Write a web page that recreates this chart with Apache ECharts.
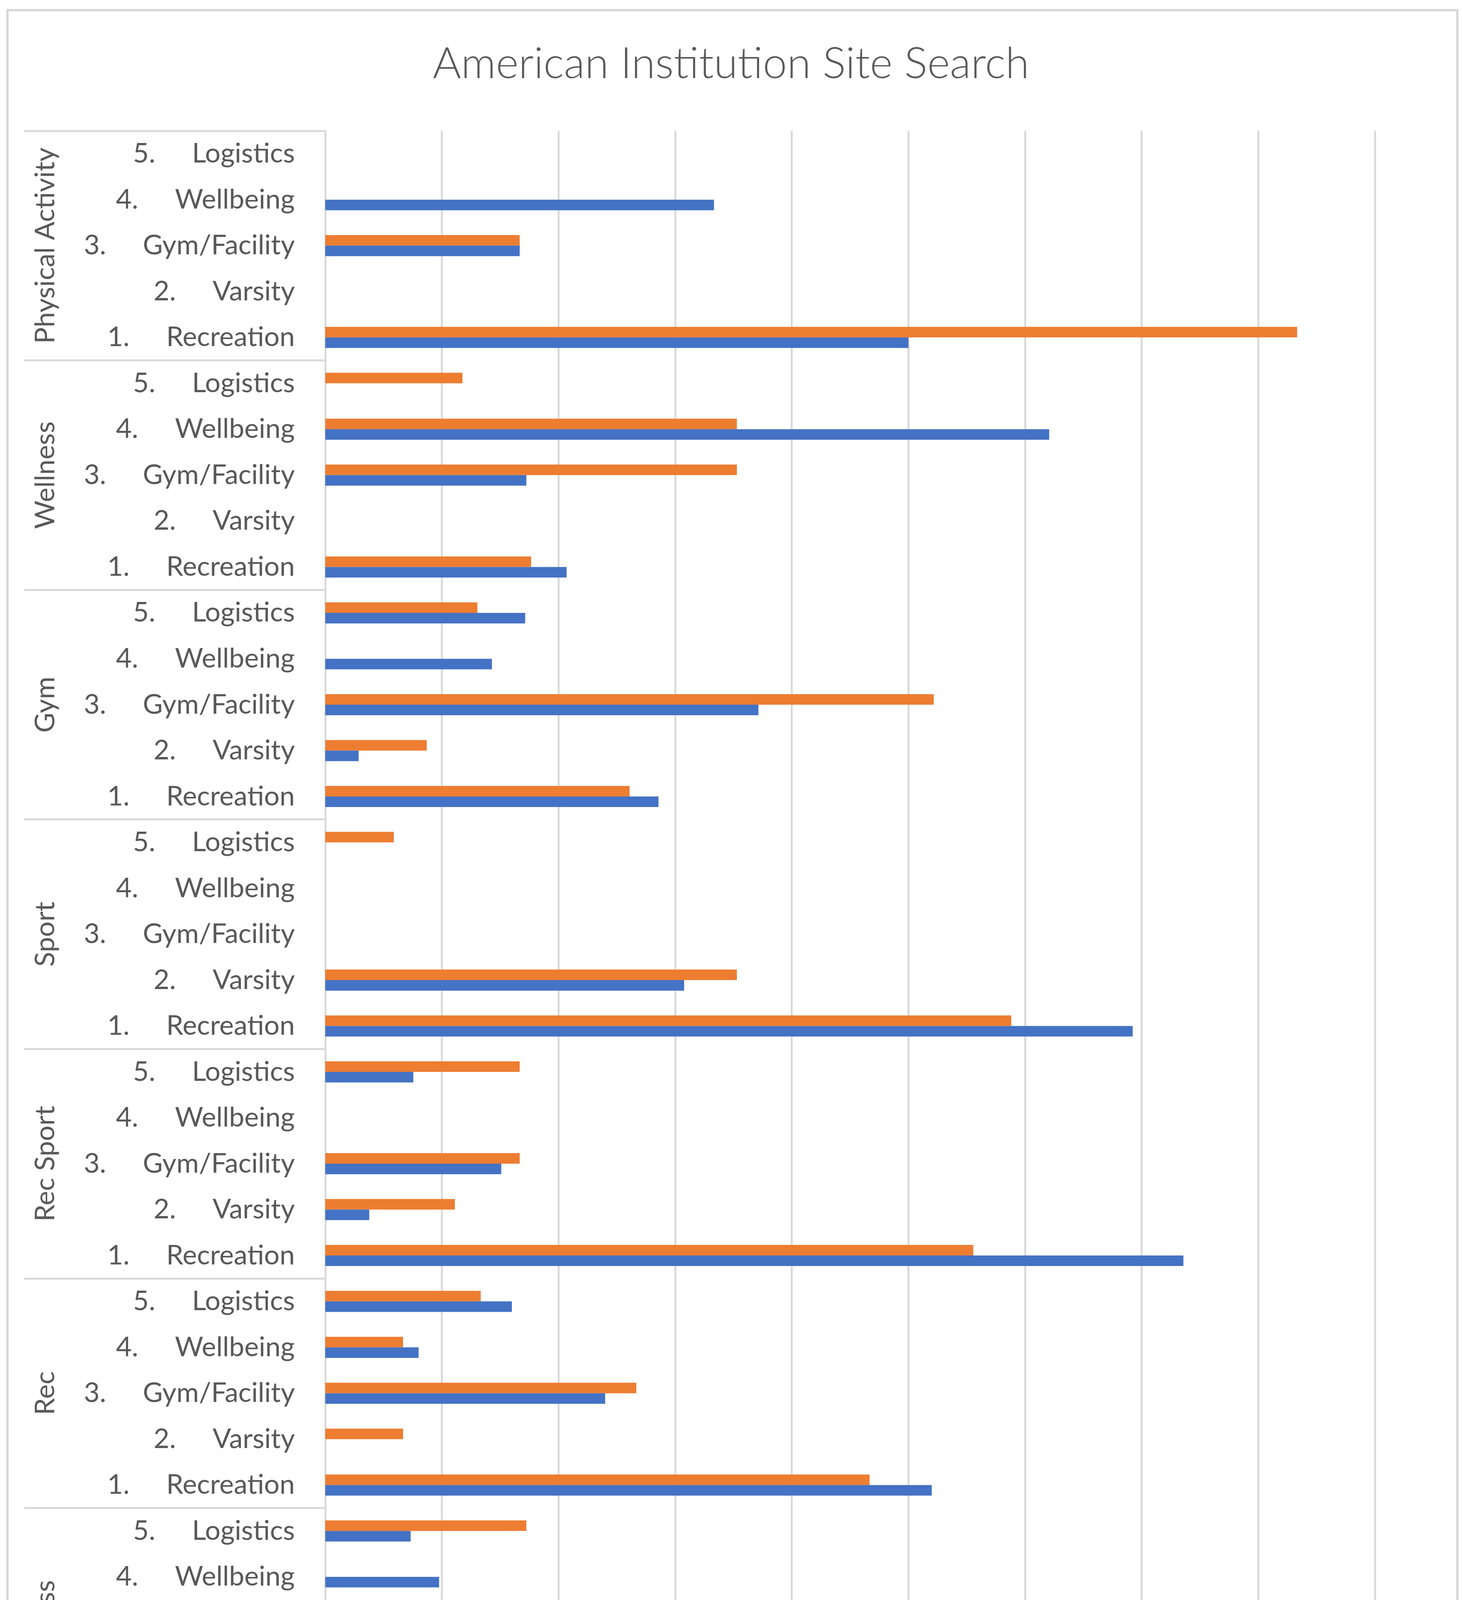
<!DOCTYPE html>
<html>
<head>
<meta charset="utf-8">
<title>American Institution Site Search</title>
<script src="https://cdn.jsdelivr.net/npm/echarts@6/dist/echarts.min.js"></script>
<style>
    html, body { margin: 0; padding: 0; background: #fff; }
    #chart { width: 3744px; height: 4862px; }
</style>
</head>
<body>
<div id="chart"></div>
<script>
// groups from bottom to top, like the excel axis
var groups = ['Fitness', 'Rec', 'Rec Sport', 'Sport', 'Gym', 'Wellness', 'Physical Activity'];
var subCats = ['1. Recreation', '2. Varsity', '3. Gym/Facility', '4. Wellbeing', '5. Logistics'];
var xTicks = [0, 10, 20, 30, 40, 50, 60, 70, 80, 90];

// percent values per group, in subCats order
var fitness2yr   = [20.69, 6.90, 55.17, null, 17.24];
var fitness4yr   = [65.85, null, 17.07, 9.76, 7.32];
var rec2yr       = [46.67, 6.67, 26.67, 6.67, 13.33];
var rec4yr       = [52.00, null, 24.00, 8.00, 16.00];
var recSport2yr  = [55.56, 11.11, 16.67, null, 16.67];
var recSport4yr  = [73.58, 3.77, 15.09, null, 7.55];
var sport2yr     = [58.82, 35.29, null, null, 5.88];
var sport4yr     = [69.23, 30.77, null, null, null];
var gym2yr       = [26.09, 8.70, 52.17, null, 13.04];
var gym4yr       = [28.57, 2.86, 37.14, 14.29, 17.14];
var wellness2yr  = [17.65, null, 35.29, 35.29, 11.76];
var wellness4yr  = [20.69, null, 17.24, 62.07, null];
var physical2yr  = [83.33, null, 16.67, null, null];
var physical4yr  = [50.00, null, 16.67, 33.33, null];

var twoYear = [].concat(fitness2yr, rec2yr, recSport2yr, sport2yr, gym2yr, wellness2yr, physical2yr);
var fourYear = [].concat(fitness4yr, rec4yr, recSport4yr, sport4yr, gym4yr, wellness4yr, physical4yr);

var rows = [];
groups.forEach(function (g) {
    subCats.forEach(function (s) {
        rows.push(g + '|' + s);
    });
});

var textColor = '#595959';
var lineColor = '#d9d9d9';
var font = 'Lato, "Open Sans", sans-serif';
var labelSize = 70;

var myChart = echarts.init(document.getElementById('chart'), null, { renderer: 'canvas', devicePixelRatio: 1 });

var option = {
    backgroundColor: '#fff',
    animation: false,
    title: {
        text: 'American Institution Site Search',
        left: 'center',
        top: 104,
        textStyle: { fontFamily: font, fontSize: 111, fontWeight: 300, color: textColor }
    },
    legend: {
        data: ['2-year', '4-year'],
        left: 'center',
        top: 4692,
        icon: 'rect',
        itemWidth: 40,
        itemHeight: 40,
        itemGap: 66,
        textStyle: { fontFamily: font, fontSize: labelSize, color: textColor, padding: [0, 0, 0, 4] }
    },
    grid: {
        left: 833,
        right: 223,
        top: 335,
        bottom: 414,
        containLabel: false
    },
    xAxis: {
        type: 'value',
        min: xTicks[0],
        max: xTicks[xTicks.length - 1],
        interval: 10,
        axisLine: { show: false },
        axisTick: { show: false },
        splitLine: { lineStyle: { color: lineColor, width: 5 } },
        axisLabel: {
            margin: 62,
            fontFamily: font,
            fontSize: labelSize,
            color: textColor,
            formatter: function (v) { return v.toFixed(2) + '%'; }
        }
    },
    yAxis: [
        {
            // sub categories
            type: 'category',
            data: rows,
            position: 'left',
            axisLine: { show: true, lineStyle: { color: lineColor, width: 5 } },
            axisTick: { show: false },
            axisLabel: {
                interval: 0,
                margin: 78,
                fontFamily: font,
                fontSize: labelSize,
                color: textColor,
                formatter: function (v) {
                    var s = v.split('|')[1];
                    var k = s.indexOf(' ');
                    return '{n|' + s.slice(0, k) + '}{t|' + s.slice(k + 1) + '}';
                },
                rich: {
                    n: { fontFamily: font, fontSize: labelSize, color: textColor, padding: [0, 94, 0, 0] },
                    t: { fontFamily: font, fontSize: labelSize, color: textColor }
                }
            }
        },
        {
            // group labels, ticks make the separators
            type: 'category',
            data: groups,
            position: 'left',
            axisLine: { show: false },
            axisTick: { show: true, length: 771, lineStyle: { color: lineColor, width: 5 } },
            axisLabel: {
                interval: 0,
                rotate: 90,
                margin: 682,
                fontFamily: font,
                fontSize: labelSize,
                color: textColor
            }
        }
    ],
    series: [
        {
            name: '2-year',
            type: 'bar',
            yAxisIndex: 0,
            data: twoYear,
            barWidth: 27,
            barGap: '0%',
            itemStyle: { color: '#ed7d31' }
        },
        {
            name: '4-year',
            type: 'bar',
            yAxisIndex: 0,
            data: fourYear,
            barWidth: 27,
            barGap: '0%',
            itemStyle: { color: '#4472c4' }
        }
    ],
    graphic: [
        {
            type: 'rect',
            silent: true,
            shape: { x: 19, y: 26, width: 3713, height: 4809 },
            style: { fill: null, stroke: lineColor, lineWidth: 6 }
        }
    ]
};

myChart.setOption(option);
</script>
</body>
</html>
